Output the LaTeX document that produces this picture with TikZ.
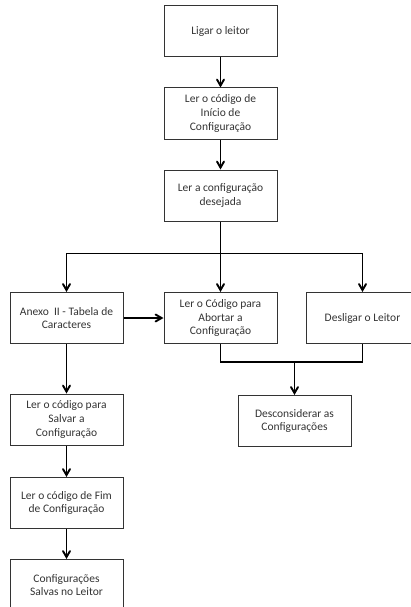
\documentclass[tikz,border=0pt]{standalone}
\usepackage{fontspec}
\setmainfont{Carlito}
\usepackage{tikz}
\usetikzlibrary{arrows}
\usetikzlibrary{positioning}

\begin{document}
\begin{tikzpicture}[->,>=angle 60,line width=1.9pt,node distance=82pt,
  main node/.style={rectangle,draw=black!80,line width=1pt,minimum width=113pt,
    minimum height=51pt,align=center,text=black!80,font=\fontsize{11.5}{13.7}\selectfont}]
  \useasboundingbox (0,0) rectangle (411pt,-607pt);

  \node[main node] (1) at (220.5pt,-31.5pt) {Ligar o leitor};
  \node[main node] (2) [below of=1] {Ler o código de\\Início de\\Configuração};
  \node[main node] (3) [below of=2] {Ler a configuração\\desejada};
  \node[main node] (5) [below of=3,yshift=-40.5pt] {Ler o Código para\\Abortar a\\Configuração};
  \node[main node] (4) [left of=5,xshift=-72pt] {Anexo \ II - Tabela de\\Caracteres};
  \node[main node] (6) [right of=5,xshift=60pt] {Desligar o Leitor};
  \node[main node] (7) [below of=4,yshift=-19.5pt] {Ler o código para\\Salvar a\\Configuração};
  \node[main node] (8) [below of=7,yshift=-1.5pt] {Ler o código de Fim\\de Configuração};
  \node[main node] (9) [below of=8] {Configurações\\Salvas no Leitor};
  \node[main node] (10) [below of=5,xshift=74pt,yshift=-21pt] {Desconsiderar as\\Configurações};

  \path (3.south) ++(0,-32pt) coordinate (a);
  \path (10.north) ++(0,33pt) coordinate (b);

  \draw (1) -- (2);
  \draw (2) -- (3);
  \draw (3) -- (5);
  \draw (a) -| (4);
  \draw (a) -| (6);
  \draw (4) -- (5);
  \draw (4) -- (7);
  \draw (7) -- (8);
  \draw (8) -- (9);
  \draw[-] (5) |- (b) -| (6);
  \draw (b) -- (10);
\end{tikzpicture}
\end{document}
